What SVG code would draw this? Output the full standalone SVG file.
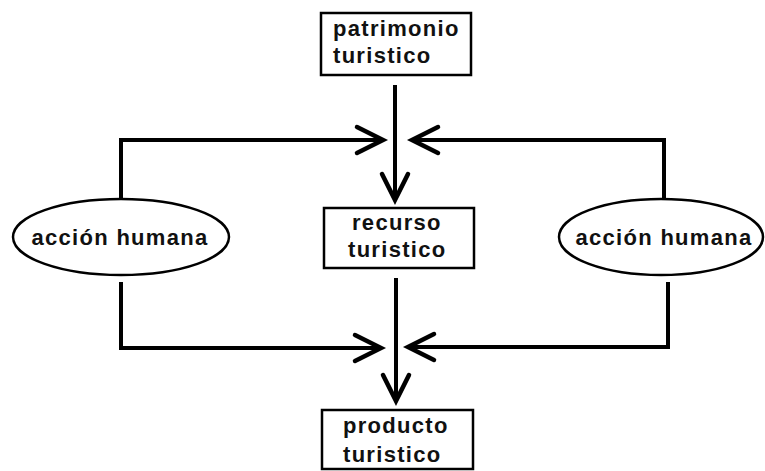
<svg xmlns="http://www.w3.org/2000/svg" width="765" height="471" viewBox="0 0 765 471">
<defs>
<style>
.box{fill:#fff;stroke:#000;stroke-width:2.5}
.ell{fill:#fff;stroke:#000;stroke-width:2.5}
.t{font-family:"Liberation Sans",Arial,sans-serif;font-weight:bold;font-size:22px;letter-spacing:1.3px;fill:#111}
.c{fill:none;stroke:#000;stroke-width:4;stroke-linejoin:miter}
</style>
<marker id="chev" markerUnits="userSpaceOnUse" markerWidth="40" markerHeight="40" viewBox="-30 -20 40 40" refX="0" refY="0" orient="auto">
<path d="M-26,-13 L0,0 L-26,13" fill="none" stroke="#000" stroke-width="4.5" stroke-linecap="round"/>
</marker>
</defs>
<rect width="765" height="471" fill="#fff"/>
<g id="connectors">
<path class="c" d="M395,85 V200" marker-end="url(#chev)"/>
<path class="c" d="M121,198 V140 H383" marker-end="url(#chev)"/>
<path class="c" d="M664,198 V140 H412" marker-end="url(#chev)"/>
<path class="c" d="M396,278 V401" marker-end="url(#chev)"/>
<path class="c" d="M121,282 V348 H381" marker-end="url(#chev)"/>
<path class="c" d="M668,282 V347 H408" marker-end="url(#chev)"/>
</g>
<g id="patrimonio">
<rect class="box" x="321" y="13" width="150" height="62"/>
<text class="t" x="333" y="36">patrimonio</text>
<text class="t" x="333" y="63">turistico</text>
</g>
<g id="recurso">
<rect class="box" x="324" y="208" width="150" height="60"/>
<text class="t" x="352" y="230">recurso</text>
<text class="t" x="348" y="257">turistico</text>
</g>
<g id="producto">
<rect class="box" x="322" y="410" width="151" height="59"/>
<text class="t" x="343" y="433">producto</text>
<text class="t" x="343" y="462">turistico</text>
</g>
<g id="accion-izq">
<ellipse class="ell" cx="121" cy="237" rx="108" ry="38"/>
<text class="t" x="120" y="245" text-anchor="middle">acción humana</text>
</g>
<g id="accion-der">
<ellipse class="ell" cx="661" cy="237" rx="102" ry="38"/>
<text class="t" x="664" y="245" text-anchor="middle">acción humana</text>
</g>
</svg>
